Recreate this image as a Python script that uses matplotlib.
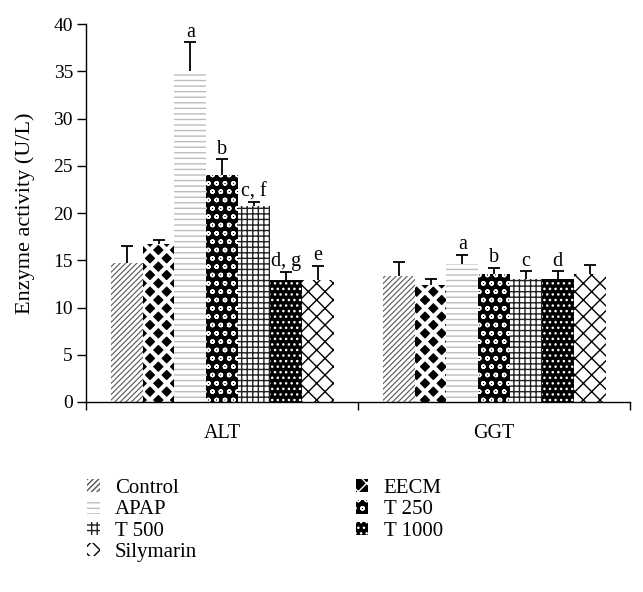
import matplotlib
matplotlib.use("Agg")
import matplotlib.pyplot as plt
import numpy as np

plt.rcParams['font.family'] = ['Liberation Serif', 'DejaVu Serif']
plt.rcParams['hatch.linewidth'] = 1.0

groups = ["ALT", "GGT"]
treatments = ["Control", "EECM", "APAP", "T 250", "T 500", "T 1000", "Silymarin"]
means = {
    "ALT": [14.7, 16.7, 35.1, 24.0, 20.8, 12.9, 12.9],
    "GGT": [13.3, 12.4, 14.6, 13.6, 13.0, 13.0, 13.6],
}
errors = {
    "ALT": [1.8, 0.5, 3.0, 1.7, 0.4, 0.9, 1.5],
    "GGT": [1.55, 0.6, 0.95, 0.6, 0.85, 0.85, 0.9],
}
letters = {
    "ALT": ["", "", "a", "b", "c, f", "d, g", "e"],
    "GGT": ["", "", "a", "b", "c", "d", ""],
}

styles = [
    dict(facecolor="white", edgecolor="#555555", hatch="//////", hlw=0.8),
    dict(facecolor="black", edgecolor="white", hatch="xx", hlw=3.0),
    dict(facecolor="white", edgecolor="#bdbdbd", hatch="---", hlw=1.0),
    dict(facecolor="black", edgecolor="white", hatch="oo", hlw=1.0),
    dict(facecolor="white", edgecolor="#222222", hatch="+++", hlw=1.0),
    dict(facecolor="black", edgecolor="white", hatch="...", hlw=1.0),
    dict(facecolor="white", edgecolor="black", hatch="xx", hlw=1.0),
]

FS = 14.5

fig = plt.figure(figsize=(6.43, 5.92), dpi=100)
ax = fig.add_axes([0.134, 0.321, 0.846, 0.638])

n = len(treatments)
bw = 0.117
x = np.arange(len(groups))
bars = []
for i, t in enumerate(treatments):
    st = dict(styles[i])
    hlw = st.pop("hlw")
    pos = x + (i - (n - 1) / 2) * bw
    vals = [means[g][i] for g in groups]
    errs = [errors[g][i] for g in groups]
    with plt.rc_context({"hatch.linewidth": hlw}):
        b = ax.bar(pos, vals, width=bw, linewidth=0, label=t, **st)
    for p in b.patches:
        if hasattr(p, "set_hatch_linewidth"):
            p.set_hatch_linewidth(hlw)
    bars.append(b)
    eb = ax.errorbar(pos, vals, yerr=[np.zeros(len(vals)), errs], fmt="none",
                     ecolor="black", elinewidth=1.3, capsize=4.5, capthick=1.3)
    caps = eb[1]
    if len(caps) >= 2:
        caps[0].set_visible(False)
    for j, g in enumerate(groups):
        lab = letters[g][i]
        if lab:
            ax.text(pos[j], vals[j] + errs[j] + 0.6, lab, ha="center",
                    va="baseline", fontsize=FS)

ax.set_xlim(-0.5, 1.5)
ax.set_ylim(0, 40)
ax.set_yticks(np.arange(0, 41, 5))
ax.tick_params(axis="y", direction="out", length=6.5, width=1, pad=3,
               labelsize=FS - 0.5)
ax.set_xticks([-0.5, 0.5, 1.5])
ax.set_xticklabels([])
ax.tick_params(axis="x", which="major", direction="out", length=5.5, width=1)
ax.set_xticks(x, minor=True)
ax.set_xticklabels(groups, minor=True)
ax.tick_params(axis="x", which="minor", length=0, pad=16, labelsize=FS)
for s in ["top", "right"]:
    ax.spines[s].set_visible(False)
ax.spines["left"].set_linewidth(1.0)
ax.spines["bottom"].set_linewidth(1.0)
ax.set_ylabel("Enzyme activity (U/L)", fontsize=16, labelpad=13)

# legend in row-major order: two columns
order = [0, 2, 4, 6, 1, 3, 5]
handles = [bars[k] for k in order]
labels = [treatments[k] for k in order]
fig.legend(handles, labels, loc="upper left",
           bbox_to_anchor=(87 / 643, 1 - 479 / 592),
           ncol=2, frameon=False, fontsize=15, handlelength=0.6,
           handleheight=0.6, columnspacing=7.6, labelspacing=0.11,
           handletextpad=0.75, borderpad=0, borderaxespad=0)

fig.savefig("out.png", dpi=100)
